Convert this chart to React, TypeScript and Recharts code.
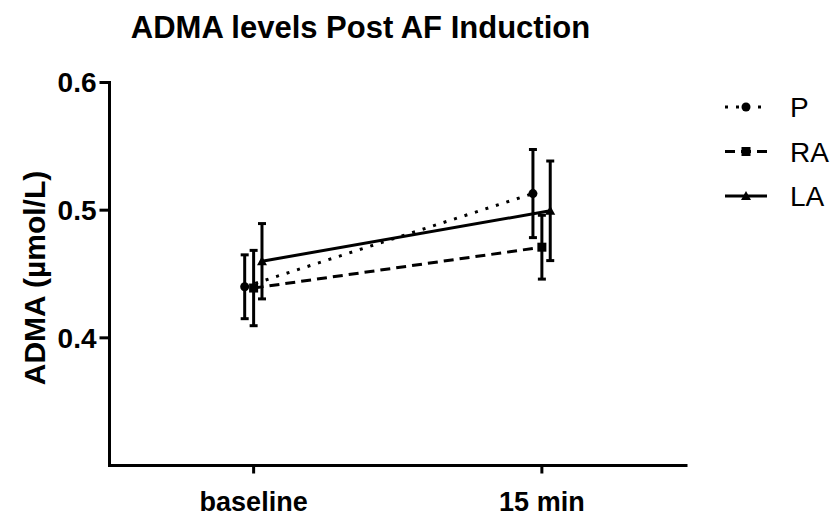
import React from 'react';
import { LineChart, Line, XAxis, YAxis, ErrorBar, Legend, Customized } from 'recharts';

const categories = ['baseline', '15 min'];
const seriesNames = ['P', 'RA', 'LA'];
const pMean = [0.44, 0.513];
const pSem = [0.025, 0.0345];
const raMean = [0.439, 0.471];
const raSem = [0.0295, 0.025];
const laMean = [0.46, 0.4995];
const laSem = [0.0295, 0.039];
const yTicks = [0.4, 0.5, 0.6];

const FONT = "Arial, 'Liberation Sans', Helvetica, sans-serif";
const OFFSETS = [-0.031, 0, 0.029];
const DASHES = ['3 8', '10 6', undefined];

const build = (mean: number[], sem: number[], off: number) =>
  categories.map((c, i) => ({ x: i + 0.5 + off, y: mean[i], err: sem[i], cat: c }));

const pData = build(pMean, pSem, OFFSETS[0]);
const raData = build(raMean, raSem, OFFSETS[1]);
const laData = build(laMean, laSem, OFFSETS[2]);

const Marker = ({ kind, cx, cy }: { kind: number; cx: number; cy: number }) => {
  if (cx == null || cy == null || isNaN(cx) || isNaN(cy)) return null;
  if (kind === 0) return <circle cx={cx} cy={cy} r={4.5} fill="#000" />;
  if (kind === 1) return <rect x={cx - 4.5} y={cy - 4.5} width={9} height={9} fill="#000" />;
  return <polygon points={`${cx},${cy - 5} ${cx + 5},${cy + 4} ${cx - 5},${cy + 4}`} fill="#000" />;
};

const makeDot = (kind: number) => (props: any) => (
  <Marker key={`m-${kind}-${props.index}`} kind={kind} cx={props.cx} cy={props.cy} />
);

const LegendContent = () => (
  <svg width={116} height={140} style={{ overflow: 'visible' }}>
    {seriesNames.map((name, i) => {
      const y = 22 + i * 44.5;
      return (
        <g key={name}>
          <line x1={5} x2={47} y1={y} y2={y} stroke="#000" strokeWidth={3} strokeDasharray={DASHES[i]} />
          <Marker kind={i} cx={26} cy={y} />
          <text x={70} y={y} dy="0.36em" fontSize={28} fontFamily={FONT} fill="#000">
            {name}
          </text>
        </g>
      );
    })}
  </svg>
);

const Title = () => (
  <text x={360.5} y={38} textAnchor="middle" fontSize={31} fontWeight="bold" fontFamily={FONT} fill="#000">
    ADMA levels Post AF Induction
  </text>
);

const YLabel = (props: any) => {
  const vb = props.viewBox || { x: 0, y: 0, width: 0, height: 0 };
  const cy = vb.y + vb.height / 2 + 4;
  return (
    <text
      x={34}
      y={cy}
      transform={`rotate(-90, 34, ${cy})`}
      textAnchor="middle"
      dominantBaseline="central"
      fontSize={30}
      fontWeight="bold"
      fontFamily={FONT}
      fill="#000"
    >
      ADMA (µmol/L)
    </text>
  );
};

export default function App() {
  return (
    <div style={{ position: 'absolute', left: 0, top: 0, width: 836, height: 516, background: '#fff' }}>
      <LineChart
        width={836}
        height={516}
        margin={{ top: 82.5, right: 150, bottom: 10.5, left: 9.5 }}
      >
        <XAxis
          type="number"
          dataKey="x"
          domain={[0, 2]}
          ticks={[0.5, 1.5]}
          tickFormatter={(v: number) => categories[Math.floor(v)]}
          height={40}
          axisLine={{ stroke: '#000', strokeWidth: 3, strokeLinecap: 'square' }}
          tickLine={{ stroke: '#000', strokeWidth: 3 }}
          tickSize={8}
          tickMargin={18}
          tick={{ fill: '#000', fontSize: 27, fontWeight: 'bold', fontFamily: FONT }}
          allowDataOverflow
        />
        <YAxis
          type="number"
          domain={[0.3, 0.6]}
          ticks={yTicks}
          tickFormatter={(v: number) => v.toFixed(1)}
          width={100}
          axisLine={{ stroke: '#000', strokeWidth: 3, strokeLinecap: 'square' }}
          tickLine={{ stroke: '#000', strokeWidth: 3 }}
          tickSize={10}
          tickMargin={3}
          tick={{ fill: '#000', fontSize: 28, fontWeight: 'bold', fontFamily: FONT }}
          allowDataOverflow
          label={<YLabel />}
        />
        <Line data={pData} dataKey="y" name="P" type="linear" stroke="#000" strokeWidth={3}
          strokeDasharray={DASHES[0]} dot={makeDot(0)} activeDot={false} isAnimationActive={false}>
          <ErrorBar dataKey="err" direction="y" width={4} stroke="#000" strokeWidth={3} isAnimationActive={false} />
        </Line>
        <Line data={raData} dataKey="y" name="RA" type="linear" stroke="#000" strokeWidth={3}
          strokeDasharray={DASHES[1]} dot={makeDot(1)} activeDot={false} isAnimationActive={false}>
          <ErrorBar dataKey="err" direction="y" width={4} stroke="#000" strokeWidth={3} isAnimationActive={false} />
        </Line>
        <Line data={laData} dataKey="y" name="LA" type="linear" stroke="#000" strokeWidth={3}
          dot={makeDot(2)} activeDot={false} isAnimationActive={false}>
          <ErrorBar dataKey="err" direction="y" width={4} stroke="#000" strokeWidth={3} isAnimationActive={false} />
        </Line>
        <Legend
          layout="horizontal"
          verticalAlign="middle"
          align="center"
          content={<LegendContent />}
          wrapperStyle={{ position: 'absolute', left: 720, top: 85, width: 116, height: 140 }}
        />
        <Customized component={<Title />} />
      </LineChart>
    </div>
  );
}
